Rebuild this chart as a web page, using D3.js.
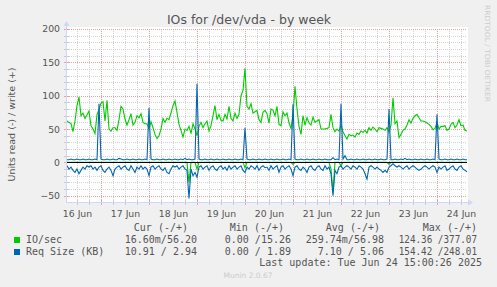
<!DOCTYPE html>
<html>
<head>
<meta charset="utf-8">
<script src="https://cdn.jsdelivr.net/npm/d3@7"></script>
<style>
  body { margin: 0; background: #f0f0f0; }
  text { font-family: 'DejaVu Sans', sans-serif; fill: #555; }
  .mono { font-family: 'DejaVu Sans Mono', monospace; font-size: 10px; }
</style>
</head>
<body>
<script>
const title = 'IOs for /dev/vda - by week';
const yLabel = 'Units read (-) / write (+)';
const startTime = new Date(2025, 5, 16, 7, 0, 0); // one value per hour from here
const dayLabels = ['16 Jun', '17 Jun', '18 Jun', '19 Jun', '20 Jun', '21 Jun', '22 Jun', '23 Jun', '24 Jun'];
const yTicks = [-50, 0, 50, 100, 150, 200];

// IO/sec, write (+)
const ioWrite = [
  62, 60, 58, 46, 62, 85, 98, 70, 74, 66,
  71, 77, 55, 50, 43, 72, 79, 89, 91, 62,
  93, 50, 47, 52, 52, 48, 64, 84, 80, 65,
  56, 64, 73, 56, 60, 70, 67, 73, 60, 58,
  58, 50, 61, 52, 42, 36, 40, 50, 66, 60,
  66, 64, 74, 85, 92, 75, 57, 48, 38, 50,
  48, 54, 43, 58, 50, 40, 54, 60, 52, 58,
  62, 47, 55, 70, 85, 64, 72, 63, 62, 72,
  65, 84, 66, 62, 74, 66, 72, 100, 108, 141,
  84, 80, 88, 74, 76, 78, 64, 60, 75, 78,
  73, 59, 80, 78, 70, 84, 57, 55, 76, 70,
  74, 59, 51, 70, 114, 80, 54, 42, 70, 56,
  67, 59, 56, 68, 60, 62, 64, 50, 50, 50,
  51, 52, 72, 52, 46, 50, 47, 56, 46, 40,
  35, 42, 40, 41, 38, 44, 42, 47, 45, 48,
  44, 52, 48, 53, 50, 46, 52, 51, 50, 48,
  52, 45, 56, 97, 58, 62, 37, 42, 48, 50,
  56, 64, 59, 66, 70, 72, 67, 62, 62, 61,
  59, 57, 54, 49, 51, 60, 50, 54, 54, 55,
  48, 50, 57, 60, 52, 56, 64, 55, 56, 48,
  47
];
// IO/sec, read (-)
const ioRead = [
  0, 0, 0, 0, 0, 0, 0, 0, 0, 0,
  0, 0, 0, 0, 0, 0, 0, 0, 0, 0,
  0, 0, 0, 0, 0, 0, 0, 0, 0, 0,
  0, 0, 0, 0, 0, 0, 0, 0, 0, 0,
  0, 0, 0, 0, 0, 0, 0, 0, 0, 0,
  0, 0, 0, 0, 0, 0, 0, 0, 0, 0,
  0, -30, 0, 0, 0, -10, 0, 0, 0, 0,
  0, 0, 0, 0, 0, 0, 0, 0, 0, 0,
  0, 0, 0, 0, 0, 0, 0, 0, 0, -8,
  0, 0, 0, 0, 0, 0, 0, 0, 0, 0,
  0, 0, 0, 0, 0, 0, 0, 0, 0, 0,
  0, 0, 0, -3, 0, 0, 0, 0, 0, 0,
  0, 0, 0, 0, 0, 0, 0, 0, 0, 0,
  0, 0, -10, -45, 0, 0, 0, -5, 0, 0,
  0, 0, 0, 0, 0, 0, 0, 0, 0, 0,
  0, 0, 0, 0, 0, 0, 0, 0, 0, 0,
  0, -3, 0, 0, 0, 0, 0, 0, 0, 0,
  0, 0, 0, 0, 0, 0, 0, 0, 0, 0,
  0, 0, 0, 0, 0, 0, 0, 0, 0, 0,
  0, 0, 0, 0, 0, 0, 0, 0, 0, 0,
  0
];
// Req Size (KB), write (+)
const reqWrite = [
  4, 4, 5, 4, 4, 5, 4, 4, 5, 4,
  4, 5, 4, 4, 5, 4, 88, 5, 4, 4,
  5, 4, 4, 5, 4, 4, 6, 5, 4, 4,
  5, 4, 4, 5, 4, 4, 5, 4, 4, 5,
  4, 82, 5, 4, 4, 5, 4, 4, 5, 4,
  4, 5, 4, 4, 5, 4, 4, 5, 4, 6,
  4, 5, 4, 4, 5, 118, 5, 4, 4, 5,
  4, 4, 5, 4, 4, 5, 4, 4, 5, 4,
  4, 5, 4, 4, 5, 4, 4, 5, 4, 52,
  5, 4, 4, 5, 4, 4, 5, 4, 4, 5,
  4, 4, 5, 4, 4, 5, 4, 4, 5, 4,
  4, 5, 4, 87, 5, 4, 4, 5, 4, 4,
  5, 4, 4, 5, 4, 4, 5, 4, 4, 5,
  4, 4, 4, 7, 4, 5, 4, 88, 5, 10,
  4, 4, 5, 4, 4, 5, 4, 4, 5, 4,
  4, 5, 4, 4, 5, 4, 4, 5, 4, 4,
  5, 80, 4, 4, 5, 4, 4, 5, 4, 6,
  4, 5, 4, 4, 5, 4, 4, 5, 4, 4,
  5, 4, 4, 5, 4, 72, 5, 4, 4, 5,
  4, 4, 5, 4, 4, 5, 4, 4, 5, 4,
  4
];
// Req Size (KB), read (-)
const reqRead = [
  -5, -10, -7, -12, -15, -10, -17, -12, -7, -10,
  -5, -7, -5, -10, -7, -12, -7, -5, -12, -15,
  -10, -7, -12, -20, -10, -7, -5, -10, -7, -5,
  -10, -12, -5, -10, -15, -7, -10, -5, -10, -7,
  -10, -20, -7, -5, -10, -7, -5, -10, -12, -8,
  -15, -17, -10, -5, -7, -5, -10, -7, -5, -10,
  -12, -54, -10, -20, -15, -22, -7, -5, -10, -7,
  -5, -12, -7, -5, -10, -12, -7, -5, -10, -7,
  -12, -5, -10, -7, -5, -10, -7, -5, -12, -15,
  -7, -10, -5, -7, -10, -5, -12, -7, -5, -8,
  -7, -12, -5, -10, -7, -5, -15, -7, -5, -10,
  -7, -5, -10, -20, -7, -5, -10, -12, -7, -10,
  -15, -7, -5, -10, -12, -7, -5, -10, -12, -5,
  -10, -7, -17, -50, -12, -17, -7, -5, -10, -7,
  -5, -7, -10, -5, -7, -10, -5, -7, -10, -17,
  -25, -7, -5, -7, -10, -7, -10, -12, -15, -12,
  -15, -7, -5, -2, -5, -7, -5, -7, -10, -7,
  -5, -10, -7, -5, -7, -10, -12, -10, -7, -5,
  -7, -10, -7, -5, -7, -15, -7, -10, -7, -5,
  -12, -10, -7, -5, -10, -12, -7, -5, -10, -12,
  -14
];

const legendNames = ['IO/sec', 'Req Size (KB)'];
const legendColors = ['#00cc00', '#0066b3'];
const legendHeaders = ['Cur (-/+)', 'Min (-/+)', 'Avg (-/+)', 'Max (-/+)'];
const curVals = ['16.60m/56.20', '10.91 / 2.94'];
const minVals = ['0.00 /15.26', '0.00 / 1.89'];
const avgVals = ['259.74m/56.98', '7.10 / 5.06'];
const maxVals = ['124.36 /377.07', '154.42 /248.01'];
const lastUpdate = 'Last update: Tue Jun 24 15:00:26 2025';

const w = 497, h = 287;
const plotLeft = 67, plotRight = 467, plotTop = 29, plotBottom = 202.4;

const svg = d3.select('body').append('svg')
    .attr('width', w)
    .attr('height', h)
    .style('background', '#f0f0f0')
    .style('display', 'block');

const t = i => d3.timeHour.offset(startTime, i);
const endTime = t(ioWrite.length - 1);
const x = d3.scaleTime().domain([startTime, endTime]).range([plotLeft, plotRight]);
const y = d3.scaleLinear().domain([-60, 200]).range([plotBottom, plotTop]);

// canvas
svg.append('rect')
    .attr('x', 66).attr('y', 27)
    .attr('width', 402).attr('height', 176)
    .attr('fill', '#fff');

// grid
const minorY = d3.range(-50, 201, 10).filter(v => v % 50 !== 0);
const hours6 = d3.timeHour.every(6).range(startTime, endTime).filter(d => d.getHours() !== 0);
const days = d3.timeDay.range(startTime, endTime);
const px = v => Math.round(v) + 0.5;

const grid = svg.append('g').attr('shape-rendering', 'crispEdges');
grid.selectAll('.hminor').data(minorY).enter().append('line')
    .attr('x1', plotLeft).attr('x2', plotRight)
    .attr('y1', d => px(y(d))).attr('y2', d => px(y(d)))
    .attr('stroke', '#d4d4d4').attr('stroke-dasharray', '1,1');
grid.selectAll('.vminor').data(hours6).enter().append('line')
    .attr('x1', d => px(x(d))).attr('x2', d => px(x(d)))
    .attr('y1', plotTop).attr('y2', plotBottom)
    .attr('stroke', '#d4d4d4').attr('stroke-dasharray', '1,1');
grid.selectAll('.hmajor').data(yTicks).enter().append('line')
    .attr('x1', plotLeft).attr('x2', plotRight)
    .attr('y1', d => px(y(d))).attr('y2', d => px(y(d)))
    .attr('stroke', '#eda0a0').attr('stroke-dasharray', '1,1');
grid.selectAll('.vmajor').data(days).enter().append('line')
    .attr('x1', d => px(x(d))).attr('x2', d => px(x(d)))
    .attr('y1', plotTop).attr('y2', plotBottom)
    .attr('stroke', '#eda0a0').attr('stroke-dasharray', '1,1');

// tick marks on the axes
grid.selectAll('.xt').data(hours6).enter().append('line')
    .attr('x1', d => px(x(d))).attr('x2', d => px(x(d)))
    .attr('y1', plotBottom - 2).attr('y2', plotBottom + 3)
    .attr('stroke', '#c8c8c8');
grid.selectAll('.xT').data(days).enter().append('line')
    .attr('x1', d => px(x(d))).attr('x2', d => px(x(d)))
    .attr('y1', plotBottom - 2).attr('y2', plotBottom + 3)
    .attr('stroke', '#eda0a0');
grid.selectAll('.yt').data(minorY.concat(yTicks)).enter().append('line')
    .attr('x1', plotLeft - 3).attr('x2', plotLeft + 2)
    .attr('y1', d => px(y(d))).attr('y2', d => px(y(d)))
    .attr('stroke', d => d % 50 === 0 ? '#eda0a0' : '#c8c8c8');

// series
const line = d3.line()
    .x((d, i) => x(t(i)))
    .y(d => y(d));

[[ioWrite, legendColors[0]], [ioRead, legendColors[0]], [reqWrite, legendColors[1]], [reqRead, legendColors[1]]]
    .forEach(([data, color]) => {
        svg.append('path')
            .datum(data)
            .attr('d', line)
            .attr('fill', 'none')
            .attr('stroke', color)
            .attr('stroke-width', 1.1);
    });

svg.append('line')
    .attr('x1', plotLeft).attr('x2', plotRight)
    .attr('y1', px(y(0))).attr('y2', px(y(0)))
    .attr('stroke', '#000')
    .attr('shape-rendering', 'crispEdges');

// axis lines with arrows
const axisColor = '#cfd6f8';
svg.append('line')
    .attr('x1', 66).attr('x2', 470)
    .attr('y1', 202.5).attr('y2', 202.5)
    .attr('stroke', axisColor);
svg.append('path')
    .attr('d', 'M473,202.5L468,199.5L468,205.5Z')
    .attr('fill', axisColor);
svg.append('line')
    .attr('x1', 66.5).attr('x2', 66.5)
    .attr('y1', 203).attr('y2', 24)
    .attr('stroke', axisColor);
svg.append('path')
    .attr('d', 'M66.5,21L63.5,26L69.5,26Z')
    .attr('fill', axisColor);

// axis labels
const yAxis = d3.axisLeft(y).tickValues(yTicks).tickSize(0).tickPadding(6.5);
const yg = svg.append('g').attr('transform', 'translate(66.5,0)').call(yAxis);
yg.select('.domain').remove();
yg.selectAll('text').style('font-family', "'DejaVu Sans', sans-serif").style('font-size', '9.3px').attr('fill', '#555');

const noons = dayLabels.map((d, i) => d3.timeHour.offset(d3.timeDay.floor(startTime), 24 * i + 12));
const xAxis = d3.axisBottom(x).tickValues(noons).tickFormat((d, i) => dayLabels[i]).tickSize(0).tickPadding(7.7);
const xg = svg.append('g').attr('transform', 'translate(0,' + plotBottom + ')').call(xAxis);
xg.select('.domain').remove();
xg.selectAll('text').style('font-family', "'DejaVu Sans', sans-serif").style('font-size', '9.3px').attr('fill', '#555');

// title and labels
svg.append('text')
    .attr('x', 249).attr('y', 24)
    .attr('text-anchor', 'middle')
    .style('font-size', '12.5px')
    .text(title);
svg.append('text')
    .attr('transform', 'translate(15,124.5) rotate(-90)')
    .attr('text-anchor', 'middle')
    .style('font-size', '9.5px')
    .text(yLabel);
svg.append('text')
    .attr('transform', 'translate(485,5) rotate(90)')
    .style('font-size', '7px')
    .attr('textLength', 97)
    .attr('lengthAdjust', 'spacingAndGlyphs')
    .style('fill', '#cccccc')
    .text('RRDTOOL / TOBI OETIKER');

// legend
const colEnds = [197, 291, 384, 477];
const headEnds = [188, 284, 380, 477];
legendHeaders.forEach((hd, i) => {
    svg.append('text').attr('class', 'mono')
        .attr('x', headEnds[i]).attr('y', 231)
        .attr('text-anchor', 'end')
        .text(hd);
});
const charW = 6.02;
legendNames.forEach((name, r) => {
    const yy = 243 + r * 12;
    svg.append('rect')
        .attr('x', 14).attr('y', yy - 6)
        .attr('width', 6).attr('height', 6)
        .attr('fill', legendColors[r]);
    svg.append('text').attr('class', 'mono')
        .attr('x', 26).attr('y', yy)
        .text(name);
    [curVals[r], minVals[r], avgVals[r]].forEach((v, c) => {
        svg.append('text').attr('class', 'mono')
            .attr('x', colEnds[c]).attr('y', yy)
            .attr('text-anchor', 'end')
            .text(v);
    });
    // the max column is one character too long for its slot: squeeze it in
    svg.append('text').attr('class', 'mono')
        .attr('x', colEnds[3]).attr('y', yy)
        .attr('text-anchor', 'end')
        .attr('textLength', (maxVals[r].length - 1) * charW)
        .attr('lengthAdjust', 'spacingAndGlyphs')
        .text(maxVals[r]);
});
svg.append('text').attr('class', 'mono')
    .attr('x', 482).attr('y', 266)
    .attr('text-anchor', 'end')
    .text(lastUpdate);
svg.append('text')
    .attr('x', 248).attr('y', 278)
    .attr('text-anchor', 'middle')
    .style('font-size', '7.5px')
    .style('fill', '#cccccc')
    .text('Munin 2.0.67');
</script>
</body>
</html>
